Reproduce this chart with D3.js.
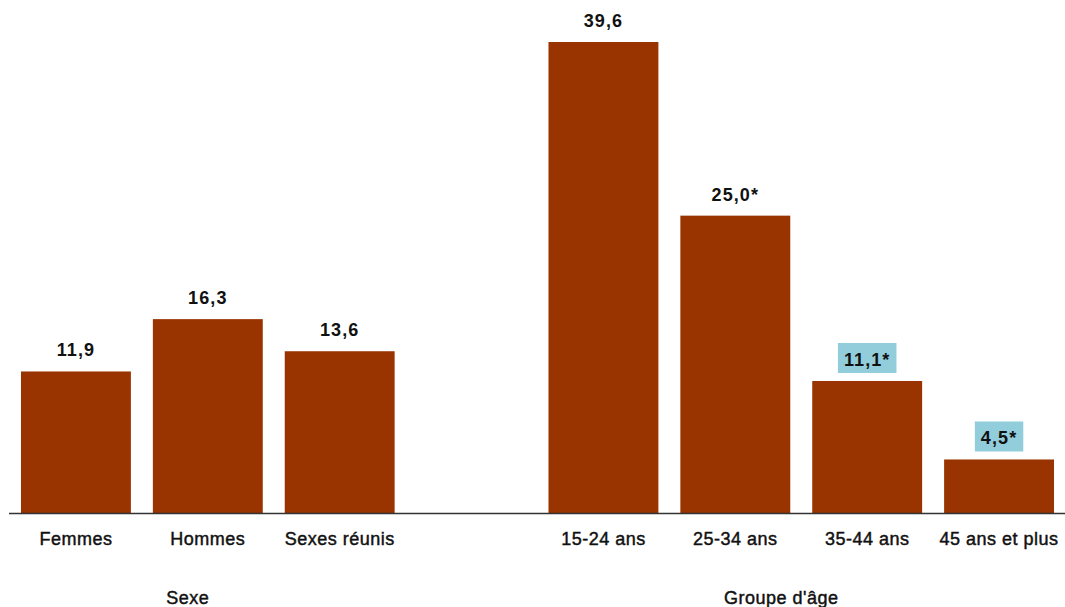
<!DOCTYPE html>
<html><head><meta charset="utf-8">
<script src="https://cdn.jsdelivr.net/npm/d3@7"></script>
<style>
html,body{margin:0;padding:0;background:#fff;}
text{font-family:"Liberation Sans",Arial,sans-serif;}
</style></head>
<body><svg id="c" width="1065" height="607"></svg>
<script>
const categories = ["Femmes","Hommes","Sexes réunis","","15-24 ans","25-34 ans","35-44 ans","45 ans et plus"];
const values = [11.9, 16.3, 13.6, null, 39.6, 25.0, 11.1, 4.5];
const significant = [false, false, false, false, false, true, true, true];
const highlighted = [false, false, false, false, false, false, true, true];
const groups = ["Sexe", "Groupe d'âge"];
const groupMembers = [[0,1,2],[4,5,6,7]];

const svg = d3.select("#c");
const baseY = 513;
const x = d3.scaleBand().domain(d3.range(categories.length)).range([10, 1065]).paddingInner(1/6).paddingOuter(1/12);
const y = d3.scaleLinear().domain([0, 39.6]).range([baseY, 42]);
const fmt = (v, s) => d3.format(".1f")(v).replace(".", ",") + (s ? "*" : "");

const data = categories.map((c,i)=>({i, c, v: values[i], s: significant[i], h: highlighted[i]})).filter(d=>d.v!==null);

svg.append("g").selectAll("rect").data(data).join("rect")
  .attr("x", d=>x(d.i)).attr("width", x.bandwidth())
  .attr("y", d=>y(d.v)).attr("height", d=>baseY - y(d.v))
  .attr("fill", "#993300");

svg.append("line").attr("x1", 9).attr("x2", 1065).attr("y1", baseY+0.5).attr("y2", baseY+0.5)
  .attr("stroke", "#333").attr("stroke-width", 1.5);

// value labels
const lg = svg.append("g");
data.forEach(d => {
  const cx = x(d.i) + x.bandwidth()/2;
  const t = lg.append("text").attr("x", cx).attr("y", y(d.v) - 15)
    .attr("text-anchor", "middle").attr("font-size", 18).attr("font-weight", "bold")
    .attr("letter-spacing", 1.1).attr("fill", "#111").text(fmt(d.v, d.s));
  if (d.h) {
    const bb = t.node().getBBox();
    lg.insert("rect", "text").attr("x", bb.x - 6).attr("y", y(d.v) - 38)
      .attr("width", bb.width + 12).attr("height", 30).attr("fill", "#92cddc");
  }
});

const labelStyle = sel => sel.attr("text-anchor", "middle").attr("font-size", 18)
  .attr("letter-spacing", 0.5).attr("fill", "#111").attr("stroke", "#111").attr("stroke-width", 0.45);

// category labels
svg.append("g").selectAll("text").data(data).join("text")
  .attr("x", d=>x(d.i) + x.bandwidth()/2).attr("y", 545)
  .call(labelStyle).text(d=>d.c);

// group labels
svg.append("g").selectAll("text").data(groups).join("text")
  .attr("x", (g,gi)=>d3.mean(groupMembers[gi], i=>x(i)+x.bandwidth()/2) - 20)
  .attr("y", 604).call(labelStyle).text(g=>g);
</script></body></html>
